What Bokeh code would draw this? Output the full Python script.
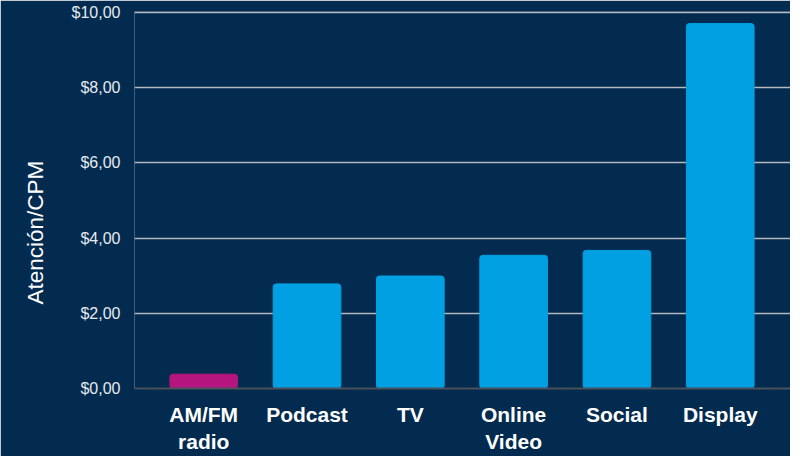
from bokeh.plotting import figure
from bokeh.models import ColumnDataSource, FixedTicker, Range1d, Title
from bokeh.embed import file_html
from bokeh.resources import INLINE

categories = ["AM/FM\nradio", "Podcast", "TV", "Online\nVideo", "Social", "Display"]
values = [0.38, 2.78, 2.99, 3.54, 3.67, 9.70]
colors = ["#b5157f", "#00a0e3", "#00a0e3", "#00a0e3", "#00a0e3", "#00a0e3"]
y_ticks = [0, 2, 4, 6, 8, 10]
y_tick_labels = ["$0,00", "$2,00", "$4,00", "$6,00", "$8,00", "$10,00"]
y_title = "Atención/CPM"

BG = "#032a4f"
xs = list(range(len(categories)))
src = ColumnDataSource(dict(x=xs, top=values, color=colors))

p = figure(width=790, height=456, output_backend="svg", toolbar_location=None,
           x_range=Range1d(-0.67, 5.68), y_range=Range1d(0, 10.02),
           min_border_left=134, min_border_right=0, min_border_top=11, min_border_bottom=64)
p.background_fill_color = BG
p.border_fill_color = BG
p.outline_line_color = None

p.vbar(x="x", top="top", width=0.655, color="color", source=src, border_radius=3)

p.xaxis.ticker = FixedTicker(ticks=xs)
p.xaxis.major_label_overrides = {i: c for i, c in zip(xs, categories)}
p.xaxis.major_label_text_font = "Liberation Sans"
p.xaxis.major_label_text_font_style = "bold"
p.xaxis.major_label_text_font_size = "21px"
p.xaxis.major_label_text_color = "#ffffff"
p.xaxis.major_label_standoff = 8
p.xaxis.major_tick_line_color = None
p.xaxis.minor_tick_line_color = None
p.xaxis.axis_line_color = "#4a525c"
p.xaxis.axis_line_width = 2

p.yaxis.ticker = FixedTicker(ticks=y_ticks)
p.yaxis.major_label_overrides = {t: l for t, l in zip(y_ticks, y_tick_labels)}
p.yaxis.major_label_text_font = "Liberation Sans"
p.yaxis.major_label_text_font_size = "16px"
p.yaxis.major_label_text_color = "#e6eaef"
p.yaxis.major_label_standoff = 8
p.yaxis.major_tick_line_color = None
p.yaxis.minor_tick_line_color = None
p.yaxis.axis_line_color = None

p.add_layout(Title(text=y_title, align="left", offset=84, standoff=38,
                   vertical_align="top",
                   text_font="Liberation Sans", text_font_size="22.5px",
                   text_font_style="normal", text_color="#ffffff"), "left")

p.xgrid.grid_line_color = None
p.ygrid.ticker = FixedTicker(ticks=[2, 4, 6, 8, 10])
p.ygrid.grid_line_color = "#b4b9bf"
p.ygrid.grid_line_width = 1.5

open("out.html", "w").write(file_html(p, INLINE))
